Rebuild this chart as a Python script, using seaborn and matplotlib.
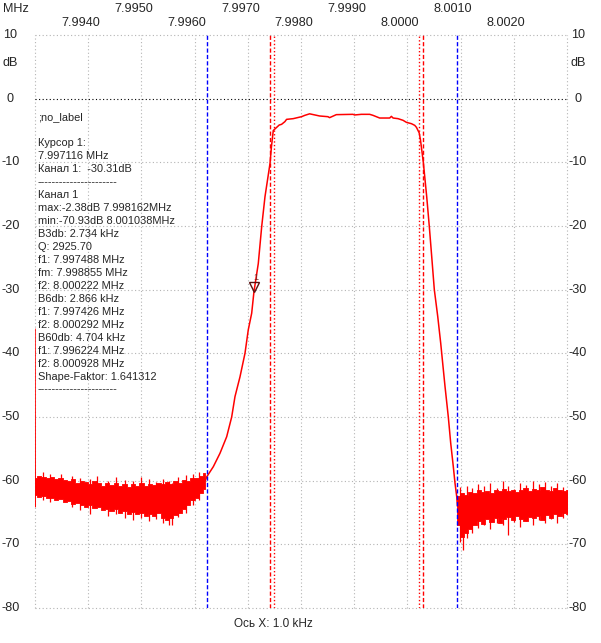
import matplotlib
matplotlib.use("Agg")
import matplotlib.pyplot as plt
import matplotlib.transforms as mtransforms
import seaborn as sns

# ---- data (MHz / dB) ----
# main trace: left skirt, passband, right skirt
trace_mhz = [7.99620, 7.996228, 7.996352, 7.996477, 7.996603, 7.996697, 7.996759,
             7.996853, 7.996947, 7.997009, 7.997073, 7.997116, 7.997197, 7.997261,
             7.997323, 7.997417, 7.997445, 7.997479, 7.997590, 7.997635, 7.997697,
             7.997729, 7.997853, 7.998010, 7.998072, 7.998162, 7.998350, 7.998506,
             7.998538, 7.998664, 7.998976, 7.999008, 7.999134, 7.999291, 7.999353,
             7.999479, 7.999667, 7.999699, 7.999731, 7.999824, 7.999918, 7.999982,
             8.000076, 8.000138, 8.000170, 8.000222, 8.000246, 8.000269, 8.000299,
             8.000363, 8.000412, 8.000457, 8.000506, 8.000570, 8.000626, 8.000664,
             8.000707, 8.000769, 8.000814, 8.000863, 8.000895, 8.000927, 8.000940]
trace_db = [-60.0, -59.4, -57.8, -55.7, -53.1, -50.0, -46.8,
            -43.7, -40.0, -36.3, -33.7, -30.3, -25.9, -20.1,
            -15.4, -10.2, -7.5, -5.0, -4.14, -4.03, -3.61,
            -3.25, -3.14, -2.83, -2.62, -2.38, -2.72, -2.83,
            -2.98, -2.51, -2.46, -2.56, -2.46, -2.46, -2.62,
            -3.04, -3.04, -2.78, -3.04, -3.14, -3.40, -3.72,
            -3.93, -4.19, -4.50, -5.38, -6.5, -8.0, -10.0,
            -15.4, -20.1, -24.8, -30.0, -34.2, -38.4, -41.6,
            -45.2, -50.0, -54.1, -57.8, -60.4, -62.5, -64.0]

# first sample glitch at the left edge
edge_mhz = [7.99300, 7.993004]
edge_db = [-36.2, -64.1]

# noise floor, upper / lower envelope of the dense band
left_floor_mhz = [7.99300, 7.99308, 7.99316, 7.99324, 7.99332, 7.99340, 7.99348,
                  7.99356, 7.99364, 7.99372, 7.99380, 7.99388, 7.99396, 7.99404,
                  7.99412, 7.99420, 7.99428, 7.99436, 7.99444, 7.99452, 7.99460,
                  7.99468, 7.99476, 7.99484, 7.99492, 7.99500, 7.99508, 7.99516,
                  7.99524, 7.99532, 7.99540, 7.99548, 7.99556, 7.99564, 7.99572,
                  7.99580, 7.99588, 7.99596, 7.99604, 7.99612, 7.99620]
left_floor_hi = [-59.6, -59.2, -59.4, -59.6, -59.5, -59.8, -59.6, -59.9, -60.1, -59.8,
                 -60.3, -60.0, -60.2, -60.6, -60.1, -60.4, -60.8, -60.4, -60.7, -60.3,
                 -60.9, -60.6, -61.0, -60.6, -60.8, -60.4, -60.8, -60.5, -60.7, -60.3,
                 -60.6, -60.2, -60.5, -60.1, -60.3, -59.9, -60.0, -59.6, -59.6, -59.2,
                 -58.8]
left_floor_lo = [-62.3, -62.6, -62.4, -62.8, -62.7, -63.1, -62.9, -63.4, -63.2, -63.6,
                 -63.5, -63.9, -64.1, -63.8, -64.3, -64.1, -64.6, -64.4, -64.8, -64.5,
                 -65.0, -64.8, -65.2, -64.9, -65.3, -65.0, -65.6, -65.2, -65.5, -65.1,
                 -65.8, -66.1, -65.9, -65.4, -65.0, -64.4, -63.8, -63.1, -62.7, -61.9,
                 -61.3]

right_floor_mhz = [8.00094, 8.00102, 8.00110, 8.00118, 8.00126, 8.00134, 8.00142,
                   8.00150, 8.00158, 8.00166, 8.00174, 8.00182, 8.00190, 8.00198,
                   8.00206, 8.00214, 8.00222, 8.00230, 8.00238, 8.00246, 8.00254,
                   8.00262, 8.00270, 8.00278, 8.00286, 8.00294, 8.00302]
right_floor_hi = [-62.4, -62.0, -62.2, -61.8, -61.9, -61.5, -61.8, -61.6, -61.9, -61.4,
                  -61.7, -61.3, -61.6, -61.5, -61.8, -61.4, -61.2, -61.6, -61.3, -61.5,
                  -61.0, -61.4, -61.6, -61.2, -61.4, -61.7, -61.5]
right_floor_lo = [-67.0, -68.8, -68.2, -67.6, -67.0, -66.4, -66.8, -66.0, -66.5, -65.9,
                  -66.7, -66.0, -65.7, -66.2, -65.6, -66.0, -66.4, -65.7, -65.9, -65.5,
                  -66.1, -65.4, -65.8, -65.2, -65.6, -65.1, -65.3]

# single spikes sticking out of the band: frequency, top, bottom
left_spike_mhz = [7.993150, 7.993282, 7.993489, 7.993695, 7.993846, 7.994034, 7.994165,
                  7.994372, 7.994523, 7.994692, 7.994842, 7.994992, 7.995143, 7.995274,
                  7.995406, 7.995519, 7.995575, 7.995688, 7.995838, 7.995970, 7.996083]
left_spike_top = [-58.6, -59.0, -58.9, -59.3, -59.6, -59.8, -59.2, -60.0, -59.5, -59.9,
                  -60.1, -59.4, -59.8, -60.2, -59.7, -60.0, -60.4, -59.5, -59.1, -58.9,
                  -58.6]
left_spike_bot = [-63.0, -63.4, -62.8, -64.2, -64.6, -65.2, -64.0, -65.6, -65.3, -65.9,
                  -66.2, -65.8, -66.3, -66.0, -66.6, -67.0, -66.9, -65.7, -65.0, -63.9,
                  -63.0]
right_spike_mhz = [8.000989, 8.001045, 8.001120, 8.001214, 8.001327, 8.001440, 8.001553,
                   8.001684, 8.001797, 8.001891, 8.002004, 8.002117, 8.002229, 8.002361,
                   8.002474, 8.002586, 8.002699, 8.002812, 8.002925]
right_spike_top = [-61.0, -62.0, -60.8, -61.2, -60.6, -60.9, -60.4, -61.1, -60.1, -60.9,
                   -61.3, -60.3, -60.7, -60.0, -60.6, -60.2, -60.9, -60.4, -61.0]
right_spike_bot = [-69.6, -70.9, -69.0, -68.2, -67.5, -66.9, -67.6, -66.6, -67.0, -68.5,
                   -66.5, -67.2, -66.4, -66.9, -66.2, -66.7, -66.0, -66.6, -65.8]

# markers
b60_mhz = [7.996224, 8.000928]
b6_mhz = [7.997426, 8.000292]
b3_mhz = [7.997488, 8.000222]
cursor_mhz = 7.997116
cursor_db = -30.31

# axes
x_min, x_max = 7.9930, 8.0030
grid_mhz = [7.9930, 7.9940, 7.9950, 7.9960, 7.9970, 7.9980, 7.9990,
            8.0000, 8.0010, 8.0020, 8.0030]
top_row_mhz = [7.9950, 7.9970, 7.9990, 8.0010]
low_row_mhz = [7.9940, 7.9960, 7.9980, 8.0000, 8.0020]
db_ticks = [10, 0, -10, -20, -30, -40, -50, -60, -70, -80]

info_lines = [
    ";no_label", "", "Курсор 1:", "7.997116 MHz", "Канал 1:  -30.31dB",
    "----------------------", "Канал 1", "max:-2.38dB 7.998162MHz",
    "min:-70.93dB 8.001038MHz", "B3db: 2.734 kHz", "Q: 2925.70",
    "f1: 7.997488 MHz", "fm: 7.998855 MHz", "f2: 8.000222 MHz",
    "B6db: 2.866 kHz", "f1: 7.997426 MHz", "f2: 8.000292 MHz",
    "B60db: 4.704 kHz", "f1: 7.996224 MHz", "f2: 8.000928 MHz",
    "Shape-Faktor: 1.641312", "----------------------",
]

sns.set_style("white")
plt.rcParams['font.family'] = ['Liberation Sans', 'DejaVu Sans']

W, H = 601, 643
fig = plt.figure(figsize=(W / 100, H / 100), dpi=100)
ax = fig.add_axes([35 / W, (H - 608) / H, 532 / W, 573 / H])
ax.set_xlim(x_min, x_max)
ax.set_ylim(-80, 10)
for s in ax.spines.values():
    s.set_visible(False)
ax.set_xticks([])
ax.set_yticks([])

grid_kw = dict(color='#b4b4b4', lw=0.8, linestyle=(0, (1, 2.2)), zorder=1, clip_on=False)
for g in grid_mhz:
    ax.axvline(g, **grid_kw)
for d in db_ticks:
    if d == 0:
        ax.axhline(d, color='black', lw=0.8, linestyle=(0, (1, 2.2)), zorder=1, clip_on=False)
    else:
        ax.axhline(d, **grid_kw)

red = '#ff0000'
# noise floors
for fm, hi, lo in [(left_floor_mhz, left_floor_hi, left_floor_lo),
                   (right_floor_mhz, right_floor_hi, right_floor_lo)]:
    ax.fill_between(fm, lo, hi, step='mid', color=red, lw=0.6, edgecolor=red, zorder=3)
ax.vlines(left_spike_mhz, left_spike_bot, left_spike_top, color=red, lw=0.9, zorder=3)
ax.vlines(right_spike_mhz, right_spike_bot, right_spike_top, color=red, lw=0.9, zorder=3)

sns.lineplot(x=trace_mhz, y=trace_db, ax=ax, color=red, lw=1.1,
             estimator=None, sort=False, zorder=3)
sns.lineplot(x=edge_mhz, y=edge_db, ax=ax, color=red, lw=1.1,
             estimator=None, sort=False, zorder=3)

for f in b60_mhz:
    ax.axvline(f, color='#0000ff', lw=1.0, linestyle=(0, (3, 1.6)), zorder=4)
for f in b6_mhz:
    ax.axvline(f, color=red, lw=1.0, linestyle=(0, (3, 1.6)), zorder=4)
for f in b3_mhz:
    ax.axvline(f, color=red, lw=1.0, linestyle=(0, (1, 1.6)), zorder=4)

# cursor marker
mark_tr = mtransforms.offset_copy(ax.transData, fig=fig, x=0, y=5, units='dots')
ax.plot([cursor_mhz], [cursor_db], marker='v', ms=6.5, mfc='none', mec='#5a1010',
        mew=1.0, transform=mark_tr, zorder=5, clip_on=False)
lab_tr = mtransforms.offset_copy(ax.transData, fig=fig, x=2, y=14, units='dots')
ax.text(cursor_mhz, cursor_db, "1", transform=lab_tr, fontsize=6.5, color='#7a2020',
        ha='center', va='center', zorder=5)

# tick labels
fs = 9.1
xt = mtransforms.blended_transform_factory(ax.transData, fig.transFigure)
xt = mtransforms.offset_copy(xt, fig=fig, x=-7.5, y=0, units='dots')
for f in top_row_mhz:
    ax.text(f, 1 - 9.5 / H, f"{f:.4f}", transform=xt, ha='center', va='center',
            fontsize=fs, clip_on=False)
for f in low_row_mhz:
    ax.text(f, 1 - 23.5 / H, f"{f:.4f}", transform=xt, ha='center', va='center',
            fontsize=fs, clip_on=False)
fig.text(3 / W, 1 - 9.5 / H, "MHz", ha='left', va='center', fontsize=fs)

yt = mtransforms.blended_transform_factory(fig.transFigure, ax.transData)
for d in db_ticks:
    ax.text(10.5 / W, d, f"{d}", transform=yt, ha='center', va='center', fontsize=fs, clip_on=False)
    ax.text(578 / W, d, f"{d}", transform=yt, ha='center', va='center', fontsize=fs, clip_on=False)
fig.text(10 / W, 1 - 62.5 / H, "dB", ha='center', va='center', fontsize=fs)
fig.text(578 / W, 1 - 62.5 / H, "dB", ha='center', va='center', fontsize=fs)

fig.text(273 / W, 1 - 624 / H, "Ось X: 1.0 kHz", ha='center', va='center', fontsize=8.5)

# info block
for i, line in enumerate(info_lines):
    fig.text(38 / W, 1 - (120.5 + 12.95 * i) / H, line, ha='left', va='baseline',
             fontsize=7.9)

fig.savefig("out.png", dpi=100)
